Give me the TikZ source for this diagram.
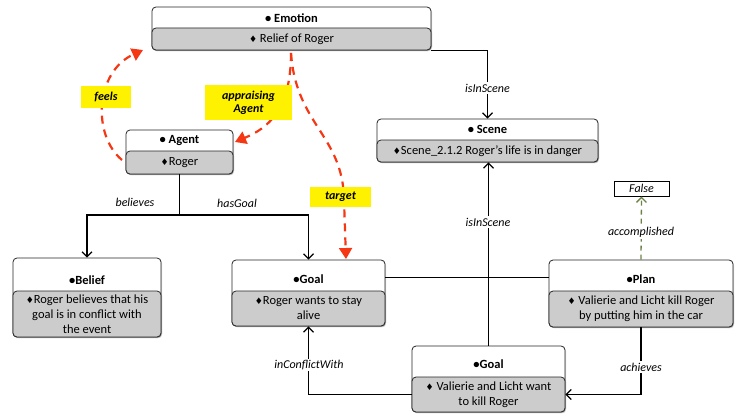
\documentclass[tikz,border=0pt]{standalone}
\usepackage{fontspec}
\setmainfont{Carlito}
\newfontfamily\symfont{DejaVu Sans}
\usetikzlibrary{arrows.meta,shadows}
\newcommand\mydia{{\symfont\fontsize{9}{10}\selectfont ♦}}
\definecolor{redc}{RGB}{245,55,20}
\definecolor{olivec}{RGB}{110,130,70}
\begin{document}
\begin{tikzpicture}[x=1pt,y=-1pt,
  box/.style={draw=black!85, line width=0.8pt, rounded corners=4pt, fill=white, inner sep=0pt,
    drop shadow={opacity=0.35, shadow xshift=1pt, shadow yshift=-1.2pt}},
  greybox/.style={box, fill=black!20},
  ttl/.style={font=\fontsize{12.5}{14}\selectfont\bfseries, inner sep=0pt},
  body/.style={font=\fontsize{12.5}{15}\selectfont, align=center, inner sep=0pt},
  rel/.style={font=\fontsize{12}{14}\selectfont\itshape, fill=white, inner sep=1.5pt},
  conn/.style={line width=1.2pt, draw=black},
  arr/.style={conn, -{Straight Barb[length=5pt,width=10pt,line width=1.2pt]}},
  redarc/.style={draw=redc, line width=2.2pt, dash pattern=on 8pt off 6pt, -{Triangle[length=11pt,width=13pt]}},
  tag/.style={fill=yellow, font=\fontsize{12}{13}\selectfont\bfseries\itshape, align=center, inner sep=0pt}
]
\useasboundingbox (0,0) rectangle (735,417);

% Emotion
\node[box, minimum width=279pt, minimum height=43pt] (emo) at (291.5,28.5) {};
\node[greybox, minimum width=279pt, minimum height=22pt] (emoV) at (291.5,39) {};
\node[ttl] (emoT) at (291.5,18) {• Emotion};
\node[body] (emoB) at (emoV) {\mydia\ Relief of Roger};

% Scene
\node[box, minimum width=221pt, minimum height=43pt] (scene) at (487.5,140.5) {};
\node[greybox, minimum width=221pt, minimum height=22pt] (sceneV) at (487.5,151) {};
\node[ttl] (sceneT) at (487.5,129.5) {• Scene};
\node[body] (sceneB) at (sceneV) {\mydia Scene\_2.1.2 Roger's life is in danger};

% Agent
\node[box, minimum width=107pt, minimum height=44pt] (agent) at (179.5,152) {};
\node[greybox, minimum width=107pt, minimum height=23pt] (agentV) at (179.5,162.5) {};
\node[ttl] (agentT) at (179.5,140.5) {• Agent};
\node[body] (agentB) at (agentV) {\mydia Roger};

% Belief
\node[box, minimum width=148pt, minimum height=79pt] (belief) at (87,297.5) {};
\node[greybox, minimum width=148pt, minimum height=46pt] (beliefV) at (87,314) {};
\node[ttl] (beliefT) at (87,280) {•Belief};
\node[body] (beliefB) at (beliefV) {\mydia Roger believes that his\\goal is in conflict with\\the event};

% Goal
\node[box, minimum width=153pt, minimum height=66pt] (goal) at (308.5,293) {};
\node[greybox, minimum width=153pt, minimum height=35pt] (goalV) at (308.5,308.5) {};
\node[ttl] (goalT) at (308.5,279) {•Goal};
\node[body] (goalB) at (goalV) {\mydia Roger wants to stay\\alive};

% Plan
\node[box, minimum width=184pt, minimum height=67pt] (plan) at (641,293.5) {};
\node[greybox, minimum width=184pt, minimum height=36pt] (planV) at (641,309) {};
\node[ttl] (planT) at (641,279) {•Plan};
\node[body] (planB) at (planV) {\mydia\ Valierie and Licht kill Roger\\by putting him in the car};

% Goal 2
\node[box, minimum width=153pt, minimum height=66pt] (goal2) at (488.5,379) {};
\node[greybox, minimum width=153pt, minimum height=35pt] (goal2V) at (488.5,394.5) {};
\node[ttl] (goal2T) at (488.5,364) {•Goal};
\node[body] (goal2B) at (goal2V) {\mydia\ Valierie and Licht want\\to kill Roger};

% False
\node[draw=black, line width=1pt, minimum width=55pt, minimum height=15pt, inner sep=0pt,
  font=\fontsize{12}{13}\selectfont\itshape] (false) at (641.5,188.5) {False};

% black connectors
\draw[arr] (emo.south east) -| (scene.north);
\node[rel] (l1) at (487.5,88) {isInScene};

\coordinate (j1) at (179.5,215);
\draw[conn] (agentV.south) -- (j1);
\draw[arr] (j1) -| (belief.north);
\draw[arr] (j1) -| (goal.north);
\node[font=\fontsize{12}{14}\selectfont\itshape, inner sep=0pt] (l2) at (135,202) {believes};
\node[font=\fontsize{12}{14}\selectfont\itshape, inner sep=0pt] (l3) at (237,203) {hasGoal};

\draw[conn] (goal.east |- 0,277.5) -- (plan.west |- 0,277.5);
\draw[arr] (goal2.north) -- (goal2.north |- sceneV.south);
\node[rel] (l4) at (488,222) {isInScene};

\draw[arr] (planV.south) |- (goal2V.east);
\node[rel] (l5) at (641,367) {achieves};

\draw[arr] (goal2V.west) -| (goalV.south);
\node[rel] (l6) at (309,365) {inConflictWith};

\draw[draw=olivec, line width=1.3pt, dash pattern=on 5pt off 4pt,
  -{Straight Barb[length=5pt,width=10pt,line width=1.3pt]}] (plan.north) -- (false.south);
\node[rel] (l7) at (641,232) {accomplished};

% red dashed arcs
\coordinate (f0) at (122,160);
\coordinate (f1) at (143,50);
\draw[redarc] (f0) .. controls (92,135) and (95,72) .. (f1);
\coordinate (a0) at (291,53);
\coordinate (a1) at (235,142);
\draw[redarc] (a0) .. controls (291,110) and (268,128) .. (a1);
\coordinate (t1) at (346,259);
\draw[redarc] (a0) .. controls (296,125) and (343,135) .. (344,200) -- (t1);

\node[tag, minimum width=50pt, minimum height=22pt] (tf) at (106,97) {feels};
\node[tag, minimum width=87pt, minimum height=35pt] (ta) at (248.5,102.5) {appraising\\Agent};
\node[tag, minimum width=61pt, minimum height=20pt] (tt) at (340.5,197) {target};
\end{tikzpicture}
\end{document}
